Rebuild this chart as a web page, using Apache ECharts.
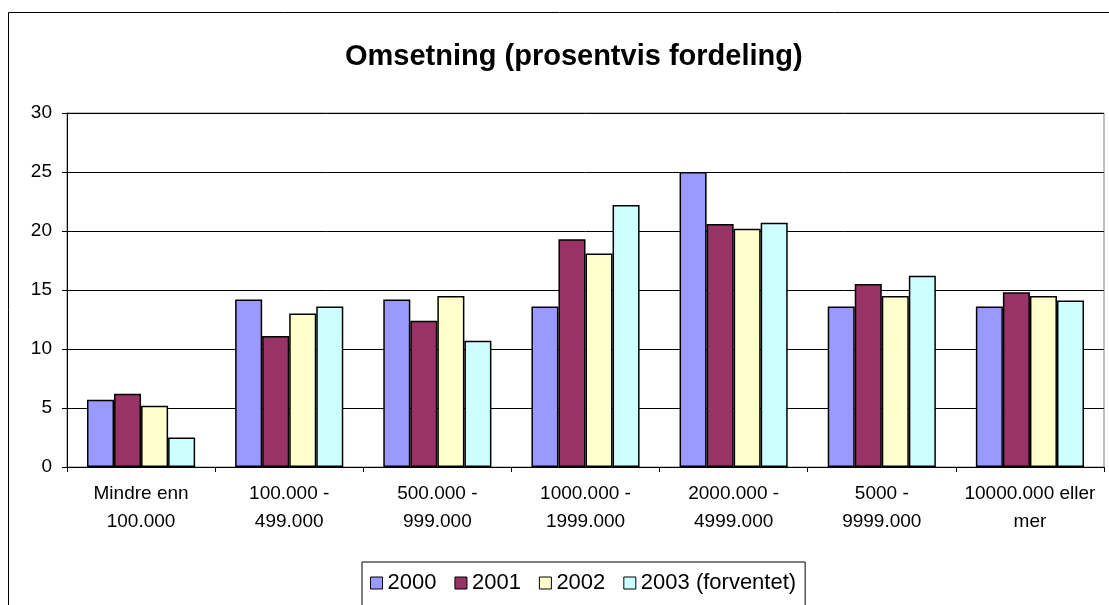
<!DOCTYPE html>
<html>
<head>
<meta charset="utf-8">
<script src="https://cdn.jsdelivr.net/npm/echarts@6/dist/echarts.min.js"></script>
<style>
  html, body { margin: 0; padding: 0; background: #fff; }
  #main { width: 1109px; height: 605px; }
</style>
</head>
<body>
<div id="main"></div>
<script>
let categories = ['Mindre enn\n100.000', '100.000 -\n499.000', '500.000 -\n999.000', '1000.000 -\n1999.000',
    '2000.000 -\n4999.000', '5000 -\n9999.000', '10000.000 eller\nmer'];
let seriesNames = ['2000', '2001', '2002', '2003 (forventet)'];
let values2000 = [5.7, 14.2, 14.2, 13.6, 25.0, 13.6, 13.6];
let values2001 = [6.2, 11.1, 12.4, 19.3, 20.6, 15.5, 14.8];
let values2002 = [5.2, 13.0, 14.5, 18.1, 20.2, 14.5, 14.5];
let values2003 = [2.5, 13.6, 10.7, 22.2, 20.7, 16.2, 14.1];
let colors = ['#9999FF', '#993366', '#FFFFCC', '#CCFFFF'];

const font = 'Liberation Sans, Arial, sans-serif';

function makeSeries(name, data, color) {
    return {
        name: name,
        type: 'bar',
        data: data,
        barGap: '0%',
        barCategoryGap: '27%',
        itemStyle: {
            color: color,
            borderColor: '#000',
            borderWidth: 1.5
        }
    };
}

const option = {
    animation: false,
    title: {
        text: 'Omsetning (prosentvis fordeling)',
        left: 340,
        top: 37,
        textStyle: { fontFamily: font, fontSize: 29, fontWeight: 'bold', color: '#000' }
    },
    graphic: [{
        type: 'rect',
        shape: { x: 8.5, y: 12.5, width: 1120, height: 620 },
        style: { fill: 'none', stroke: '#000', lineWidth: 1 },
        silent: true,
        z: -1
    }],
    legend: {
        data: seriesNames,
        left: 362,
        top: 562,
        icon: 'rect',
        itemWidth: 12,
        itemHeight: 12,
        itemGap: 18,
        padding: [10, 9, 30, 8],
        borderColor: '#000',
        borderWidth: 1,
        itemStyle: { borderColor: '#000', borderWidth: 1 },
        textStyle: { fontFamily: font, fontSize: 22, color: '#000' }
    },
    grid: {
        left: 67,
        right: 5,
        top: 113,
        bottom: 138,
        show: true,
        borderColor: '#808080',
        borderWidth: 1
    },
    xAxis: {
        type: 'category',
        data: categories,
        axisLine: { lineStyle: { color: '#000', width: 1 } },
        axisTick: { show: true, length: 5, alignWithLabel: false, lineStyle: { color: '#000' } },
        axisLabel: { fontFamily: font, fontSize: 19, color: '#000', lineHeight: 28, margin: 13, interval: 0 }
    },
    yAxis: {
        type: 'value',
        min: 0,
        max: 30,
        interval: 5,
        axisLine: { show: true, lineStyle: { color: '#000', width: 1 } },
        axisTick: { show: true, length: 5, lineStyle: { color: '#000' } },
        axisLabel: { fontFamily: font, fontSize: 19, color: '#000', margin: 15 },
        splitLine: { lineStyle: { color: '#000', width: 1 } }
    },
    series: [
        makeSeries(seriesNames[0], values2000, colors[0]),
        makeSeries(seriesNames[1], values2001, colors[1]),
        makeSeries(seriesNames[2], values2002, colors[2]),
        makeSeries(seriesNames[3], values2003, colors[3])
    ]
};

let plot = echarts.init(document.querySelector('#main'));
plot.setOption(option);
</script>
</body>
</html>
